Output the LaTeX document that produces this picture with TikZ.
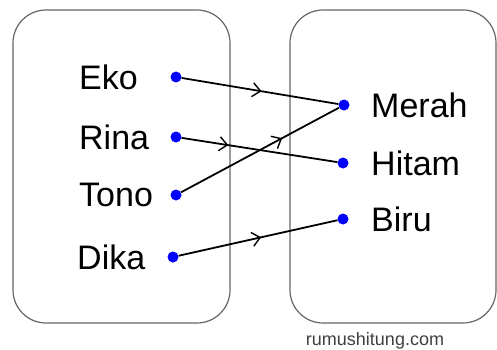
\documentclass[tikz,border=0pt]{standalone}
\usepackage{fontspec}
\setmainfont{Liberation Sans}
\usetikzlibrary{arrows.meta,decorations.markings}

\tikzset{
  dot/.style={circle,fill=blue,inner sep=0pt,minimum size=11pt},
  word/.style={anchor=west,inner sep=0pt,font=\fontsize{34}{40}\selectfont},
  setbox/.style={draw=black!60,line width=1.2pt,rounded corners=33pt},
  maparrow/.style={line width=1.8pt,postaction={decorate},
    decoration={markings,mark=at position #1 with {\arrow{Straight Barb[length=8pt,width=14pt,line width=1.4pt]}}}}
}

\begin{document}
\begin{tikzpicture}[x=1pt,y=-1pt]
\useasboundingbox (0,0) rectangle (497,350);

% Domain and codomain
\draw[setbox] (13,10) rectangle (230,323);
\draw[setbox] (290,10) rectangle (496,323);

% Names (left)
\node[dot] (eko) at (176,77) {};
\node[dot] (rina) at (176,137) {};
\node[dot] (tono) at (176,195) {};
\node[dot] (dika) at (173,257) {};
\node[word] (eko-lbl) at (79,77) {Eko};
\node[word] (rina-lbl) at (79,137) {Rina};
\node[word] (tono-lbl) at (79,195) {Tono};
\node[word] (dika-lbl) at (77,257) {Dika};

% Colours (right)
\node[dot] (merah) at (344,105) {};
\node[dot] (hitam) at (343,163) {};
\node[dot] (biru) at (343,219) {};
\node[word] (merah-lbl) at (371,105) {Merah};
\node[word] (hitam-lbl) at (371,163) {Hitam};
\node[word] (biru-lbl) at (371,219) {Biru};

% Mapping
\draw[maparrow=0.51] (eko) -- (merah);
\draw[maparrow=0.30] (rina) -- (hitam);
\draw[maparrow=0.64] (tono) -- (merah);
\draw[maparrow=0.52] (dika) -- (biru);

\node[font=\fontsize{18}{20}\selectfont,text=black!75] (site) at (375,341) {rumushitung.com};
\end{tikzpicture}
\end{document}
